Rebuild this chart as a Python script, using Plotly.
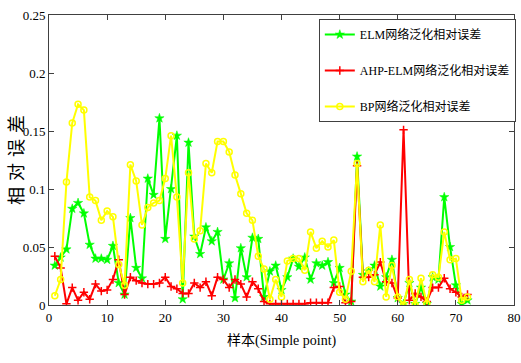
import plotly.graph_objects as go

samples = list(range(1, 73))

elm = [0.034, 0.041, 0.048, 0.083, 0.088, 0.079, 0.052, 0.040, 0.040, 0.039,
       0.051, 0.019, 0.009, 0.075, 0.032, 0.023, 0.109, 0.095, 0.161, 0.057,
       0.100, 0.146, 0.005, 0.140, 0.059, 0.044, 0.067, 0.055, 0.063, 0.022,
       0.036, 0.006, 0.049, 0.024, 0.058, 0.057, 0.007, 0.029, 0.034, 0.013,
       0.024, 0.040, 0.033, 0.041, 0.022, 0.036, 0.034, 0.037, 0.019, 0.032,
       0.009, 0.003, 0.128, 0.026, 0.029, 0.034, 0.016, 0.024, 0.039, 0.006,
       0.001, 0.019, 0.001, 0.015, 0.001, 0.024, 0.022, 0.093, 0.050, 0.017,
       0.001, 0.004]

ahp_elm = [0.042, 0.032, 0.001, 0.015, 0.004, 0.011, 0.005, 0.018, 0.012, 0.013,
           0.022, 0.039, 0.009, 0.024, 0.021, 0.019, 0.018, 0.018, 0.019, 0.024,
           0.016, 0.014, 0.010, 0.010, 0.019, 0.015, 0.020, 0.008, 0.024, 0.022,
           0.015, 0.022, 0.018, 0.007, 0.020, 0.014, 0.003, 0.001, 0.001, 0.001,
           0.001, 0.001, 0.001, 0.001, 0.002, 0.002, 0.002, 0.002, 0.015, 0.016,
           0.002, 0.003, 0.120, 0.024, 0.024, 0.026, 0.037, 0.020, 0.019, 0.006,
           0.151, 0.004, 0.010, 0.007, 0.003, 0.015, 0.015, 0.023, 0.014, 0.011,
           0.007, 0.009]

bp = [0.008, 0.022, 0.106, 0.157, 0.173, 0.168, 0.093, 0.090, 0.073, 0.081,
      0.076, 0.035, 0.017, 0.121, 0.107, 0.069, 0.084, 0.088, 0.090, 0.109,
      0.146, 0.093, 0.019, 0.114, 0.057, 0.064, 0.122, 0.114, 0.141, 0.141,
      0.132, 0.112, 0.096, 0.079, 0.073, 0.042, 0.031, 0.005, 0.022, 0.007,
      0.038, 0.040, 0.040, 0.030, 0.063, 0.049, 0.055, 0.050, 0.056, 0.011,
      0.005, 0.029, 0.122, 0.020, 0.030, 0.020, 0.069, 0.007, 0.034, 0.007,
      0.000, 0.022, 0.000, 0.023, 0.001, 0.026, 0.024, 0.063, 0.039, 0.040,
      0.004, 0.007]

names = ["ELM网络泛化相对误差", "AHP-ELM网络泛化相对误差", "BP网络泛化相对误差"]
x_ticks = [0, 10, 20, 30, 40, 50, 60, 70, 80]
y_ticks = [0, 0.05, 0.1, 0.15, 0.2, 0.25]
y_tick_labels = ["0", "0.05", "0.1", "0.15", "0.2", "0.25"]

serif = "Liberation Serif, Times New Roman, Noto Sans CJK SC, serif"

fig = go.Figure()
fig.add_trace(go.Scatter(
    x=samples, y=elm, name=names[0], mode="lines+markers", legendgroup="a",
    line=dict(color="#00ff00", width=2),
    marker=dict(symbol="star", size=7, color="#00ff00",
                line=dict(color="#00ff00", width=0.5))))
fig.add_trace(go.Scatter(
    x=samples, y=ahp_elm, name=names[1], mode="lines+markers", legendgroup="b",
    line=dict(color="#ff0000", width=2),
    marker=dict(symbol="cross-thin-open", size=6, color="#ff0000",
                line=dict(color="#ff0000", width=1.5))))
fig.add_trace(go.Scatter(
    x=samples, y=bp, name=names[2], mode="lines+markers", legendgroup="c",
    line=dict(color="#ffff00", width=2),
    marker=dict(symbol="circle-open", size=6, color="#ffff00",
                line=dict(color="#ffff00", width=1.5))))

axis_common = dict(
    showgrid=False, zeroline=False, showline=True, linecolor="#404040",
    linewidth=1, mirror="ticks", ticks="inside", ticklen=5,
    tickcolor="#404040", tickfont=dict(family=serif, size=13, color="black"),
    automargin=False,
)

fig.update_layout(
    width=521, height=363,
    margin=dict(l=49, r=6, t=15, b=58),
    paper_bgcolor="white", plot_bgcolor="white",
    xaxis=dict(range=[0, 80], tickvals=x_ticks, **axis_common),
    yaxis=dict(range=[0, 0.25], tickvals=y_ticks, ticktext=y_tick_labels,
               **axis_common),
    legend=dict(
        x=0.579, y=0.986, xanchor="left", yanchor="top",
        bgcolor="white", bordercolor="#404040", borderwidth=1,
        font=dict(family=serif, size=12, color="black"),
        itemwidth=30, traceorder="grouped", tracegroupgap=17,
    ),
    annotations=[
        dict(text="样本(Simple point)", xref="paper", yref="paper",
             x=0.5, y=-0.09, xanchor="center", yanchor="top", showarrow=False,
             font=dict(family=serif, size=14, color="black")),
        dict(text="相\u2004对\u2004误\u2004差", xref="paper", yref="paper",
             x=-0.0687, y=0.5, xanchor="center", yanchor="middle",
             showarrow=False, textangle=-90,
             font=dict(family=serif, size=18, color="black")),
    ],
)

fig.write_html("out.html",
               config={"displayModeBar": False},
               post_script="document.body.style.margin='0';")
